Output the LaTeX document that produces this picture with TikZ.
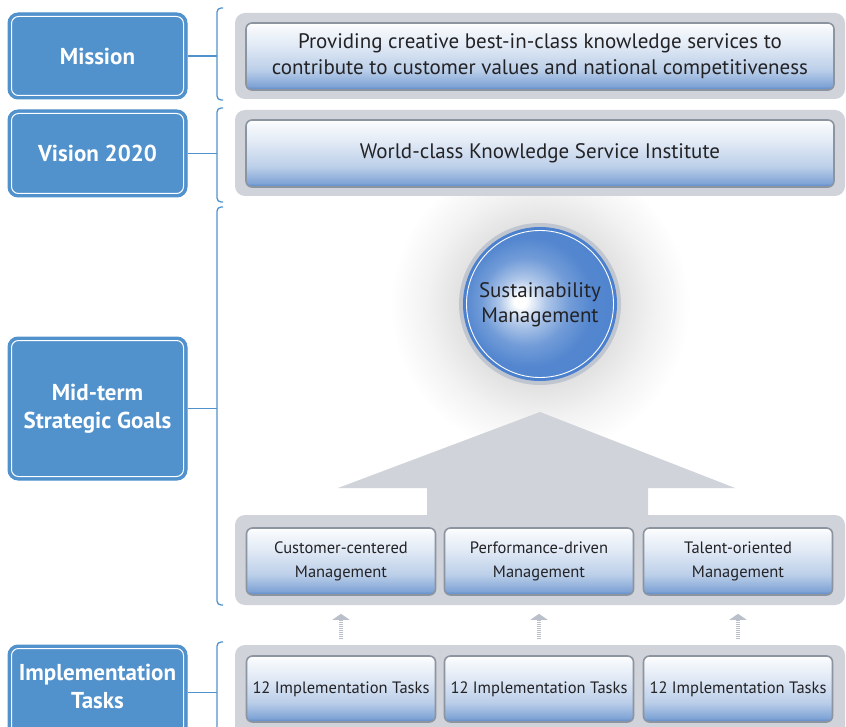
\documentclass[tikz,border=0pt]{standalone}
\usepackage{fontspec}
\setmainfont{PT Sans}
\usetikzlibrary{arrows.meta,calc}
\definecolor{leftblue}{RGB}{81,146,205}
\definecolor{panelgray}{RGB}{208,211,218}
\definecolor{boxedge}{RGB}{140,148,160}
\definecolor{boxblue}{RGB}{86,134,200}
\definecolor{ballblue}{RGB}{74,128,205}
\definecolor{ringgray}{RGB}{192,198,208}
\definecolor{txt}{RGB}{35,35,38}
\definecolor{arrgray}{RGB}{185,192,202}
\pgfdeclareverticalshading{boxsh}{100bp}{color(0bp)=(boxblue); color(25bp)=(boxblue); color(28bp)=(boxblue!75); color(40bp)=(boxblue!40); color(60bp)=(boxblue!16); color(72bp)=(boxblue!5); color(75bp)=(white); color(100bp)=(white)}
\pgfdeclareradialshading{ballsh}{\pgfpoint{-7bp}{1bp}}{color(0bp)=(white); color(2bp)=(white); color(8bp)=(ballblue!45); color(15bp)=(ballblue!78); color(22bp)=(ballblue!95); color(50bp)=(ballblue)}
\pgfdeclareradialshading{glowsh}{\pgfpoint{0bp}{0bp}}{color(0bp)=(black!22); color(13bp)=(black!12); color(19bp)=(black!5); color(25bp)=(white); color(50bp)=(white)}
\tikzset{
  x=1pt, y=-1pt,
  leftbox/.style={draw=leftblue, fill=leftblue, line width=1pt, rounded corners=10pt,
    text=white, font=\fontsize{23}{28}\selectfont\bfseries, align=center, inner sep=0pt},
  panel/.style={fill=panelgray, rounded corners=10pt},
  bluebox/.style={draw=boxedge, line width=1.6pt, rounded corners=6pt, shading=boxsh,
    text=txt, align=center, inner sep=0pt},
  bigtxt/.style={font=\fontsize{21}{26}\selectfont},
  smalltxt/.style={font=\fontsize{16.5}{24}\selectfont},
  conn/.style={draw=leftblue, line width=1.6pt},
  brace/.style={draw=leftblue, line width=1.3pt, rounded corners=4pt},
  upar/.style={draw=arrgray, line width=4pt, dash pattern=on 1pt off 1pt,
    -{Triangle[width=17pt,length=6pt,fill=arrgray]}, shorten <=16pt, shorten >=18pt},
}
\begin{document}
\begin{tikzpicture}
\useasboundingbox (0,0) rectangle (846,727);
% glow behind the ball
\shade[shading=glowsh] (540,305) circle (150);

% ---- left boxes
\node[leftbox, minimum width=179pt, minimum height=86pt] (mission) at (97.5,56) {Mission};
\node[leftbox, minimum width=179pt, minimum height=87pt] (vision) at (97.5,153.5) {Vision 2020};
\node[leftbox, minimum width=179pt, minimum height=143pt] (goals) at (97.5,408.5) {Mid-term\\Strategic Goals};
\node[leftbox, minimum width=179pt, minimum height=95pt] (tasksbox) at (97.5,692.5) {};
\node[text=white, font=\fontsize{23}{28}\selectfont\bfseries, align=center, inner sep=0pt] (taskslbl) at (97.5,686) {Implementation\\Tasks};
\foreach \n in {mission,vision,goals,tasksbox}{
  \draw[white, line width=1pt, rounded corners=7pt] ([shift={(4,4)}]\n.north west) rectangle ([shift={(-4,-4)}]\n.south east);
}

% ---- braces
\draw[brace] (223,8) -- (217,8) -- (217,100) -- (223,100);
\draw[brace] (223,108) -- (217,108) -- (217,202) -- (223,202);
\draw[brace] (223,207) -- (217,207) -- (217,605) -- (223,605);
\draw[brace] (223,642) -- (217,642) -- (217,745) -- (223,745);
\coordinate (bx) at (217,0);
\draw[conn] (mission.east) -- (mission.east -| bx);
\draw[conn] (vision.east) -- (vision.east -| bx);
\draw[conn] (goals.east) -- (goals.east -| bx);
\draw[conn] (tasksbox.east) -- (tasksbox.east -| bx);

% ---- mission / vision panels
\fill[panel] (235,13) rectangle (845,99);
\node[bluebox, bigtxt, minimum width=588pt, minimum height=67pt] (mtext) at (540,56.5)
  {Providing creative best-in-class knowledge services to\\contribute to customer values and national competitiveness};
\fill[panel] (235,110) rectangle (845,196);
\node[bluebox, bigtxt, minimum width=588pt, minimum height=67pt] (vtext) at (540,153.5)
  {World-class Knowledge Service Institute};

% ---- big arrow
\fill[panelgray] (540,412) -- (735,488) -- (648,488) -- (648,516) -- (427,516) -- (427,488) -- (338,488) -- cycle;

% ---- ball
\fill[ringgray] (540,304) circle (81);
\fill[ballblue] (540,304) circle (77);
\shade[shading=ballsh] (540,304) circle (73.5);
\draw[white, line width=0.9pt] (540,304) circle (73.5);
\node[text=txt, font=\fontsize{21}{25}\selectfont, align=center] (ball) at (540,305) {Sustainability\\Management};

% ---- goal panel
\fill[panel] (235,515) rectangle (845,605);
\node[bluebox, smalltxt, minimum width=189pt, minimum height=67pt] (g1) at (341,561.5) {Customer-centered\\Management};
\node[bluebox, smalltxt, minimum width=189pt, minimum height=67pt] (g2) at (539,561.5) {Performance-driven\\Management};
\node[bluebox, smalltxt, minimum width=189pt, minimum height=67pt] (g3) at (738,561.5) {Talent-oriented\\Management};

% ---- tasks panel
\fill[panel] (235,645) rectangle (845,745);
\node[bluebox, smalltxt, minimum width=189pt, minimum height=66pt] (t1) at (341,689) {12 Implementation Tasks};
\node[bluebox, smalltxt, minimum width=189pt, minimum height=66pt] (t2) at (539,689) {12 Implementation Tasks};
\node[bluebox, smalltxt, minimum width=189pt, minimum height=66pt] (t3) at (738,689) {12 Implementation Tasks};

% ---- small up arrows
\draw[upar] (t1.north) -- (g1.south);
\draw[upar] (t2.north) -- (g2.south);
\draw[upar] (t3.north) -- (g3.south);
\end{tikzpicture}
\end{document}
